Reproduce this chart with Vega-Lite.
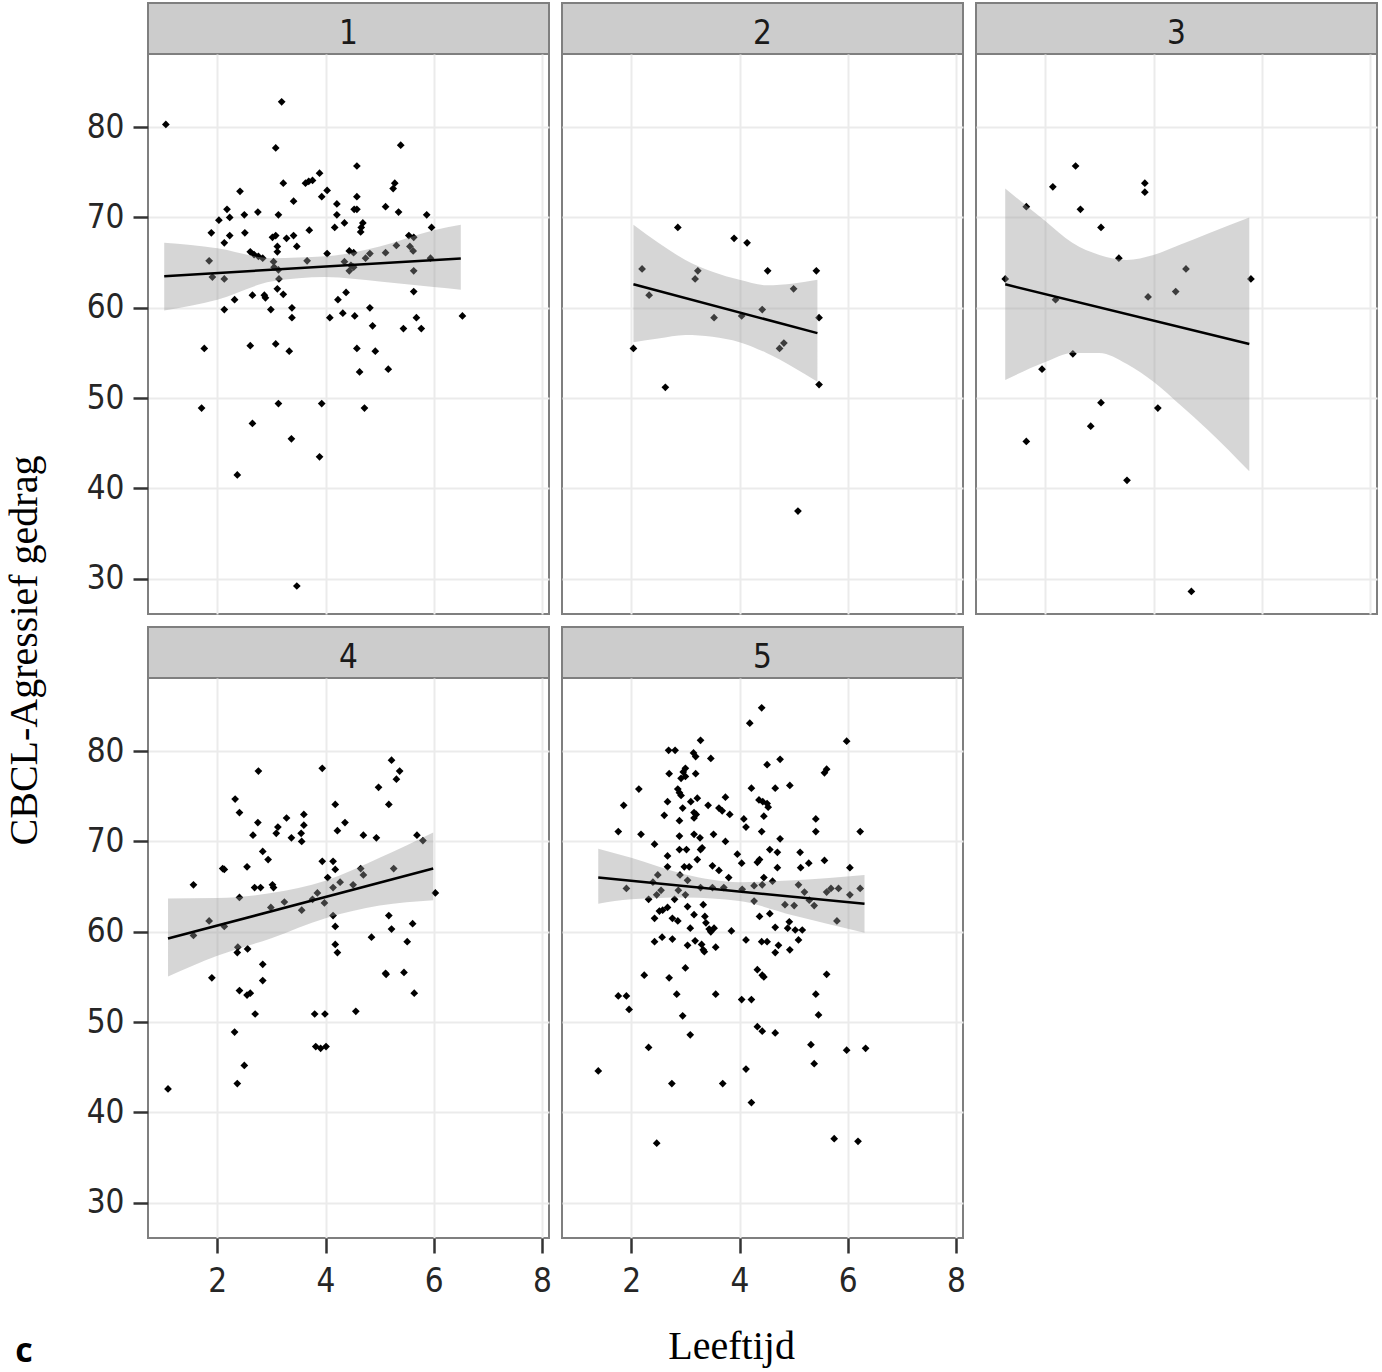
{
  "$schema": "https://vega.github.io/schema/vega-lite/v6.json",
  "background": "white",
  "padding": {"left": 5, "top": 2, "right": 4, "bottom": 4},
  "datasets": {
    "pts": [
      {"panel":1,"x":1.05,"y":80.3},{"panel":1,"x":3.19,"y":82.8},{"panel":1,"x":3.08,"y":77.7},{"panel":1,"x":3.22,"y":73.8},{"panel":1,"x":3.89,"y":74.9},
      {"panel":1,"x":3.63,"y":73.8},{"panel":1,"x":3.69,"y":74.0},{"panel":1,"x":3.76,"y":74.1},{"panel":1,"x":4.03,"y":73.0},{"panel":1,"x":3.93,"y":72.3},
      {"panel":1,"x":2.42,"y":72.9},{"panel":1,"x":3.41,"y":71.8},{"panel":1,"x":4.21,"y":71.5},{"panel":1,"x":2.18,"y":70.9},{"panel":1,"x":2.03,"y":69.7},
      {"panel":1,"x":2.23,"y":70.0},{"panel":1,"x":2.50,"y":70.3},{"panel":1,"x":2.75,"y":70.6},{"panel":1,"x":3.13,"y":70.3},{"panel":1,"x":4.21,"y":70.3},
      {"panel":1,"x":4.35,"y":69.4},{"panel":1,"x":4.17,"y":68.9},{"panel":1,"x":3.70,"y":68.6},{"panel":1,"x":1.89,"y":68.3},{"panel":1,"x":2.51,"y":68.3},
      {"panel":1,"x":2.23,"y":68.0},{"panel":1,"x":2.13,"y":67.2},{"panel":1,"x":3.02,"y":67.8},{"panel":1,"x":3.08,"y":68.0},{"panel":1,"x":3.11,"y":66.8},
      {"panel":1,"x":3.11,"y":66.2},{"panel":1,"x":3.28,"y":67.7},{"panel":1,"x":3.41,"y":68.0},{"panel":1,"x":3.47,"y":66.8},{"panel":1,"x":2.61,"y":66.2},
      {"panel":1,"x":2.68,"y":65.9},{"panel":1,"x":2.76,"y":65.7},{"panel":1,"x":2.84,"y":65.5},{"panel":1,"x":4.03,"y":66.0},{"panel":1,"x":1.85,"y":65.2},
      {"panel":1,"x":3.04,"y":65.1},{"panel":1,"x":3.05,"y":64.5},{"panel":1,"x":3.66,"y":65.2},{"panel":1,"x":4.35,"y":65.1},{"panel":1,"x":1.91,"y":63.4},
      {"panel":1,"x":2.13,"y":63.2},{"panel":1,"x":3.13,"y":64.2},{"panel":1,"x":3.14,"y":63.2},{"panel":1,"x":3.11,"y":62.1},{"panel":1,"x":3.22,"y":61.5},
      {"panel":1,"x":2.32,"y":60.9},{"panel":1,"x":2.65,"y":61.4},{"panel":1,"x":2.87,"y":61.4},{"panel":1,"x":2.89,"y":61.1},{"panel":1,"x":2.13,"y":59.8},
      {"panel":1,"x":2.99,"y":59.8},{"panel":1,"x":3.38,"y":60.0},{"panel":1,"x":3.38,"y":58.9},{"panel":1,"x":4.08,"y":58.9},{"panel":1,"x":4.23,"y":60.9},
      {"panel":1,"x":4.32,"y":59.4},{"panel":1,"x":4.38,"y":61.7},{"panel":1,"x":1.76,"y":55.5},{"panel":1,"x":2.61,"y":55.8},{"panel":1,"x":3.08,"y":56.0},
      {"panel":1,"x":3.33,"y":55.2},{"panel":1,"x":1.71,"y":48.9},{"panel":1,"x":3.13,"y":49.4},{"panel":1,"x":3.93,"y":49.4},{"panel":1,"x":2.65,"y":47.2},
      {"panel":1,"x":3.37,"y":45.5},{"panel":1,"x":3.89,"y":43.5},{"panel":1,"x":2.37,"y":41.5},{"panel":1,"x":3.47,"y":29.2},
      {"panel":1,"x":5.39,"y":78.0},{"panel":1,"x":4.58,"y":75.7},{"panel":1,"x":5.28,"y":73.8},{"panel":1,"x":5.25,"y":73.2},{"panel":1,"x":4.58,"y":72.3},
      {"panel":1,"x":5.11,"y":71.2},{"panel":1,"x":5.35,"y":70.6},{"panel":1,"x":4.53,"y":70.9},{"panel":1,"x":4.58,"y":70.9},{"panel":1,"x":4.69,"y":69.4},
      {"panel":1,"x":4.66,"y":68.9},{"panel":1,"x":4.65,"y":68.4},{"panel":1,"x":5.87,"y":70.3},{"panel":1,"x":5.96,"y":68.9},{"panel":1,"x":5.54,"y":68.0},
      {"panel":1,"x":5.63,"y":67.8},{"panel":1,"x":5.56,"y":66.8},{"panel":1,"x":5.62,"y":66.3},{"panel":1,"x":5.31,"y":66.9},{"panel":1,"x":4.44,"y":66.3},
      {"panel":1,"x":4.52,"y":66.1},{"panel":1,"x":5.11,"y":66.1},{"panel":1,"x":4.82,"y":66.0},{"panel":1,"x":4.74,"y":65.5},{"panel":1,"x":4.47,"y":64.7},
      {"panel":1,"x":4.44,"y":64.1},{"panel":1,"x":4.52,"y":64.5},{"panel":1,"x":5.94,"y":65.5},{"panel":1,"x":5.63,"y":64.1},{"panel":1,"x":5.63,"y":61.8},
      {"panel":1,"x":4.54,"y":59.1},{"panel":1,"x":4.82,"y":60.0},{"panel":1,"x":4.87,"y":58.0},{"panel":1,"x":5.68,"y":58.9},{"panel":1,"x":5.44,"y":57.7},
      {"panel":1,"x":5.77,"y":57.7},{"panel":1,"x":6.53,"y":59.1},{"panel":1,"x":4.58,"y":55.5},{"panel":1,"x":4.92,"y":55.2},{"panel":1,"x":4.63,"y":52.9},
      {"panel":1,"x":5.16,"y":53.2},{"panel":1,"x":4.72,"y":48.9},

      {"panel":2,"x":2.86,"y":68.9},{"panel":2,"x":3.90,"y":67.7},{"panel":2,"x":4.14,"y":67.2},{"panel":2,"x":2.20,"y":64.3},{"panel":2,"x":3.23,"y":64.1},
      {"panel":2,"x":3.18,"y":63.2},{"panel":2,"x":4.52,"y":64.1},{"panel":2,"x":5.42,"y":64.1},{"panel":2,"x":2.33,"y":61.4},{"panel":2,"x":5.00,"y":62.1},
      {"panel":2,"x":4.42,"y":59.8},{"panel":2,"x":3.53,"y":58.9},{"panel":2,"x":4.04,"y":59.1},{"panel":2,"x":5.47,"y":58.9},{"panel":2,"x":2.04,"y":55.5},
      {"panel":2,"x":4.74,"y":55.5},{"panel":2,"x":4.82,"y":56.1},{"panel":2,"x":2.63,"y":51.2},{"panel":2,"x":5.47,"y":51.5},{"panel":2,"x":5.08,"y":37.5},

      {"panel":3,"x":2.56,"y":75.7},{"panel":3,"x":2.14,"y":73.4},{"panel":3,"x":3.84,"y":73.8},{"panel":3,"x":3.84,"y":72.8},{"panel":3,"x":1.65,"y":71.2},
      {"panel":3,"x":2.65,"y":70.9},{"panel":3,"x":3.03,"y":68.9},{"panel":3,"x":3.36,"y":65.5},{"panel":3,"x":4.60,"y":64.3},{"panel":3,"x":1.26,"y":63.2},
      {"panel":3,"x":5.80,"y":63.2},{"panel":3,"x":2.19,"y":60.9},{"panel":3,"x":3.90,"y":61.2},{"panel":3,"x":4.41,"y":61.8},{"panel":3,"x":2.51,"y":54.9},
      {"panel":3,"x":1.94,"y":53.2},{"panel":3,"x":3.03,"y":49.5},{"panel":3,"x":4.08,"y":48.9},{"panel":3,"x":2.84,"y":46.9},{"panel":3,"x":1.65,"y":45.2},
      {"panel":3,"x":3.51,"y":40.9},{"panel":3,"x":4.70,"y":28.6},

      {"panel":4,"x":5.22,"y":79.0},{"panel":4,"x":5.37,"y":77.8},{"panel":4,"x":5.31,"y":76.9},{"panel":4,"x":2.76,"y":77.8},{"panel":4,"x":3.94,"y":78.1},
      {"panel":4,"x":4.98,"y":76.0},{"panel":4,"x":2.33,"y":74.7},{"panel":4,"x":2.41,"y":73.2},{"panel":4,"x":4.18,"y":74.1},{"panel":4,"x":5.17,"y":74.1},
      {"panel":4,"x":3.28,"y":72.6},{"panel":4,"x":3.60,"y":73.0},{"panel":4,"x":3.60,"y":71.8},{"panel":4,"x":2.75,"y":72.1},{"panel":4,"x":4.36,"y":72.1},
      {"panel":4,"x":3.12,"y":71.6},{"panel":4,"x":3.09,"y":70.9},{"panel":4,"x":4.22,"y":71.2},{"panel":4,"x":2.66,"y":70.7},{"panel":4,"x":3.55,"y":70.9},
      {"panel":4,"x":3.56,"y":70.0},{"panel":4,"x":3.37,"y":70.4},{"panel":4,"x":4.70,"y":70.7},{"panel":4,"x":4.94,"y":70.4},{"panel":4,"x":5.69,"y":70.7},
      {"panel":4,"x":5.80,"y":70.1},{"panel":4,"x":2.84,"y":68.9},{"panel":4,"x":2.94,"y":68.0},{"panel":4,"x":2.55,"y":67.2},{"panel":4,"x":2.10,"y":67.0},
      {"panel":4,"x":2.13,"y":66.9},{"panel":4,"x":3.94,"y":67.8},{"panel":4,"x":4.14,"y":67.8},{"panel":4,"x":4.18,"y":66.9},{"panel":4,"x":4.04,"y":66.0},
      {"panel":4,"x":4.65,"y":67.0},{"panel":4,"x":4.70,"y":66.3},{"panel":4,"x":5.26,"y":67.0},{"panel":4,"x":1.56,"y":65.2},{"panel":4,"x":2.69,"y":64.9},
      {"panel":4,"x":2.80,"y":64.9},{"panel":4,"x":3.02,"y":65.2},{"panel":4,"x":3.04,"y":64.9},{"panel":4,"x":4.14,"y":64.9},{"panel":4,"x":4.27,"y":65.5},
      {"panel":4,"x":4.51,"y":65.2},{"panel":4,"x":3.85,"y":64.3},{"panel":4,"x":2.41,"y":63.8},{"panel":4,"x":6.03,"y":64.3},{"panel":4,"x":3.24,"y":63.3},
      {"panel":4,"x":2.99,"y":62.7},{"panel":4,"x":3.76,"y":63.6},{"panel":4,"x":3.98,"y":63.2},{"panel":4,"x":3.56,"y":62.4},{"panel":4,"x":1.85,"y":61.2},
      {"panel":4,"x":2.13,"y":60.6},{"panel":4,"x":1.56,"y":59.6},{"panel":4,"x":4.14,"y":61.8},{"panel":4,"x":5.17,"y":61.8},{"panel":4,"x":4.18,"y":60.6},
      {"panel":4,"x":5.22,"y":60.3},{"panel":4,"x":5.61,"y":60.9},{"panel":4,"x":4.85,"y":59.4},{"panel":4,"x":5.51,"y":58.9},{"panel":4,"x":2.38,"y":58.3},
      {"panel":4,"x":2.37,"y":57.7},{"panel":4,"x":2.56,"y":58.1},{"panel":4,"x":4.18,"y":58.6},{"panel":4,"x":4.22,"y":57.7},{"panel":4,"x":2.84,"y":56.4},
      {"panel":4,"x":2.84,"y":54.6},{"panel":4,"x":1.90,"y":54.9},{"panel":4,"x":5.11,"y":55.4},{"panel":4,"x":5.12,"y":55.3},{"panel":4,"x":5.45,"y":55.5},
      {"panel":4,"x":2.41,"y":53.5},{"panel":4,"x":2.55,"y":53.0},{"panel":4,"x":2.61,"y":53.2},{"panel":4,"x":5.64,"y":53.2},{"panel":4,"x":2.70,"y":50.9},
      {"panel":4,"x":3.80,"y":50.9},{"panel":4,"x":3.99,"y":50.9},{"panel":4,"x":4.56,"y":51.2},{"panel":4,"x":2.32,"y":48.9},{"panel":4,"x":3.82,"y":47.3},
      {"panel":4,"x":3.91,"y":47.1},{"panel":4,"x":4.01,"y":47.3},{"panel":4,"x":2.50,"y":45.2},{"panel":4,"x":2.37,"y":43.2},{"panel":4,"x":1.09,"y":42.6},

      {"panel":5,"x":3.28,"y":81.2},{"panel":5,"x":2.69,"y":80.1},{"panel":5,"x":2.81,"y":80.1},{"panel":5,"x":3.15,"y":79.8},{"panel":5,"x":3.19,"y":79.4},
      {"panel":5,"x":3.47,"y":79.2},{"panel":5,"x":3.00,"y":78.1},{"panel":5,"x":2.96,"y":77.7},{"panel":5,"x":2.92,"y":77.0},{"panel":5,"x":3.00,"y":77.2},
      {"panel":5,"x":2.70,"y":77.5},{"panel":5,"x":3.19,"y":77.5},{"panel":5,"x":2.14,"y":75.8},{"panel":5,"x":2.86,"y":75.8},{"panel":5,"x":2.89,"y":75.4},
      {"panel":5,"x":2.92,"y":75.1},{"panel":5,"x":1.86,"y":74.0},{"panel":5,"x":2.67,"y":74.4},{"panel":5,"x":3.10,"y":74.4},{"panel":5,"x":3.22,"y":74.8},
      {"panel":5,"x":2.95,"y":73.7},{"panel":5,"x":3.42,"y":74.0},{"panel":5,"x":3.74,"y":74.9},{"panel":5,"x":3.62,"y":73.7},{"panel":5,"x":3.68,"y":73.4},
      {"panel":5,"x":3.82,"y":73.0},{"panel":5,"x":2.61,"y":72.9},{"panel":5,"x":3.16,"y":73.2},{"panel":5,"x":3.16,"y":72.6},{"panel":5,"x":3.20,"y":73.0},
      {"panel":5,"x":2.89,"y":72.3},{"panel":5,"x":1.76,"y":71.1},{"panel":5,"x":2.18,"y":70.8},{"panel":5,"x":2.89,"y":70.6},{"panel":5,"x":3.16,"y":70.8},
      {"panel":5,"x":3.27,"y":70.4},{"panel":5,"x":3.52,"y":70.8},{"panel":5,"x":3.74,"y":70.0},{"panel":5,"x":2.43,"y":69.7},{"panel":5,"x":2.89,"y":69.1},
      {"panel":5,"x":3.02,"y":69.1},{"panel":5,"x":3.28,"y":69.1},{"panel":5,"x":3.31,"y":69.3},{"panel":5,"x":2.67,"y":68.4},{"panel":5,"x":3.22,"y":68.0},
      {"panel":5,"x":3.96,"y":68.6},{"panel":5,"x":2.67,"y":67.2},{"panel":5,"x":2.98,"y":67.2},{"panel":5,"x":3.07,"y":67.2},{"panel":5,"x":3.50,"y":67.3},
      {"panel":5,"x":3.62,"y":66.8},{"panel":5,"x":2.49,"y":66.3},{"panel":5,"x":2.90,"y":66.3},{"panel":5,"x":3.80,"y":66.0},{"panel":5,"x":3.04,"y":65.7},
      {"panel":5,"x":1.91,"y":64.8},{"panel":5,"x":2.40,"y":65.5},{"panel":5,"x":3.28,"y":64.9},{"panel":5,"x":3.50,"y":64.9},{"panel":5,"x":3.71,"y":64.9},
      {"panel":5,"x":2.55,"y":64.6},{"panel":5,"x":2.47,"y":64.1},{"panel":5,"x":2.32,"y":63.6},{"panel":5,"x":2.87,"y":64.6},{"panel":5,"x":3.00,"y":64.1},
      {"panel":5,"x":2.80,"y":63.6},{"panel":5,"x":3.04,"y":62.8},{"panel":5,"x":2.67,"y":62.7},{"panel":5,"x":2.58,"y":62.4},{"panel":5,"x":2.52,"y":62.3},
      {"panel":5,"x":3.33,"y":63.0},{"panel":5,"x":3.16,"y":61.9},{"panel":5,"x":2.43,"y":61.5},{"panel":5,"x":2.76,"y":61.5},{"panel":5,"x":2.86,"y":61.2},
      {"panel":5,"x":3.36,"y":61.7},{"panel":5,"x":3.38,"y":61.0},{"panel":5,"x":3.44,"y":60.3},{"panel":5,"x":3.53,"y":60.4},{"panel":5,"x":3.47,"y":60.0},
      {"panel":5,"x":3.09,"y":60.4},{"panel":5,"x":3.85,"y":60.1},{"panel":5,"x":2.57,"y":59.4},{"panel":5,"x":2.43,"y":58.9},{"panel":5,"x":2.76,"y":59.2},
      {"panel":5,"x":3.04,"y":58.5},{"panel":5,"x":3.18,"y":59.0},{"panel":5,"x":3.30,"y":58.6},{"panel":5,"x":3.33,"y":58.0},{"panel":5,"x":3.35,"y":57.8},
      {"panel":5,"x":3.56,"y":58.3},{"panel":5,"x":3.00,"y":56.0},{"panel":5,"x":2.24,"y":55.2},{"panel":5,"x":2.70,"y":54.9},{"panel":5,"x":1.76,"y":52.9},
      {"panel":5,"x":1.91,"y":52.9},{"panel":5,"x":1.96,"y":51.4},{"panel":5,"x":2.84,"y":53.1},{"panel":5,"x":3.56,"y":53.1},{"panel":5,"x":2.95,"y":50.7},
      {"panel":5,"x":3.09,"y":48.6},{"panel":5,"x":2.32,"y":47.2},{"panel":5,"x":1.39,"y":44.6},{"panel":5,"x":2.75,"y":43.2},{"panel":5,"x":3.69,"y":43.2},
      {"panel":5,"x":2.47,"y":36.6},
      {"panel":5,"x":4.41,"y":84.8},{"panel":5,"x":4.19,"y":83.1},{"panel":5,"x":5.98,"y":81.1},{"panel":5,"x":4.75,"y":79.1},{"panel":5,"x":4.51,"y":78.5},
      {"panel":5,"x":5.61,"y":78.0},{"panel":5,"x":5.57,"y":77.6},{"panel":5,"x":4.22,"y":75.9},{"panel":5,"x":4.66,"y":75.9},{"panel":5,"x":4.93,"y":76.2},
      {"panel":5,"x":4.36,"y":74.6},{"panel":5,"x":4.43,"y":74.4},{"panel":5,"x":4.51,"y":74.2},{"panel":5,"x":4.53,"y":73.8},{"panel":5,"x":4.45,"y":72.8},
      {"panel":5,"x":4.08,"y":72.5},{"panel":5,"x":4.12,"y":71.6},{"panel":5,"x":4.41,"y":71.1},{"panel":5,"x":5.41,"y":72.5},{"panel":5,"x":5.41,"y":71.1},
      {"panel":5,"x":6.23,"y":71.1},{"panel":5,"x":4.75,"y":70.3},{"panel":5,"x":4.56,"y":69.1},{"panel":5,"x":4.70,"y":68.8},{"panel":5,"x":4.04,"y":67.6},
      {"panel":5,"x":4.33,"y":67.7},{"panel":5,"x":4.37,"y":68.0},{"panel":5,"x":5.12,"y":68.8},{"panel":5,"x":4.70,"y":67.1},{"panel":5,"x":5.13,"y":67.1},
      {"panel":5,"x":5.28,"y":67.6},{"panel":5,"x":5.57,"y":67.9},{"panel":5,"x":6.04,"y":67.1},{"panel":5,"x":4.45,"y":66.0},{"panel":5,"x":4.61,"y":65.6},
      {"panel":5,"x":4.27,"y":65.1},{"panel":5,"x":4.42,"y":65.2},{"panel":5,"x":4.05,"y":64.7},{"panel":5,"x":5.09,"y":65.2},{"panel":5,"x":5.20,"y":64.4},
      {"panel":5,"x":5.69,"y":64.8},{"panel":5,"x":5.83,"y":64.8},{"panel":5,"x":5.61,"y":64.4},{"panel":5,"x":6.23,"y":64.8},{"panel":5,"x":6.04,"y":64.1},
      {"panel":5,"x":4.27,"y":63.4},{"panel":5,"x":4.84,"y":63.0},{"panel":5,"x":5.01,"y":62.9},{"panel":5,"x":5.29,"y":63.5},{"panel":5,"x":5.38,"y":62.9},
      {"panel":5,"x":4.37,"y":61.7},{"panel":5,"x":4.56,"y":62.0},{"panel":5,"x":4.66,"y":60.5},{"panel":5,"x":4.92,"y":61.1},{"panel":5,"x":4.89,"y":60.4},
      {"panel":5,"x":5.03,"y":60.2},{"panel":5,"x":5.16,"y":60.2},{"panel":5,"x":5.80,"y":61.2},{"panel":5,"x":4.12,"y":59.1},{"panel":5,"x":4.41,"y":58.9},
      {"panel":5,"x":4.51,"y":58.9},{"panel":5,"x":4.72,"y":58.5},{"panel":5,"x":4.66,"y":57.7},{"panel":5,"x":4.93,"y":58.0},{"panel":5,"x":5.09,"y":59.1},
      {"panel":5,"x":4.33,"y":55.8},{"panel":5,"x":4.42,"y":55.2},{"panel":5,"x":4.45,"y":55.0},{"panel":5,"x":5.61,"y":55.3},{"panel":5,"x":4.04,"y":52.5},
      {"panel":5,"x":4.22,"y":52.5},{"panel":5,"x":5.41,"y":53.1},{"panel":5,"x":5.46,"y":50.8},{"panel":5,"x":4.33,"y":49.5},{"panel":5,"x":4.42,"y":49.0},
      {"panel":5,"x":4.66,"y":48.8},{"panel":5,"x":5.32,"y":47.5},{"panel":5,"x":5.38,"y":45.4},{"panel":5,"x":5.98,"y":46.9},{"panel":5,"x":6.33,"y":47.1},
      {"panel":5,"x":4.12,"y":44.8},{"panel":5,"x":4.22,"y":41.1},{"panel":5,"x":5.75,"y":37.1},{"panel":5,"x":6.19,"y":36.8}
    ],
    "fit": [
      {"panel":1,"x":1.02,"y":63.5},{"panel":1,"x":6.5,"y":65.45},
      {"panel":2,"x":2.04,"y":62.6},{"panel":2,"x":5.44,"y":57.2},
      {"panel":3,"x":1.26,"y":62.6},{"panel":3,"x":5.77,"y":56.0},
      {"panel":4,"x":1.09,"y":59.25},{"panel":4,"x":5.99,"y":67.0},
      {"panel":5,"x":1.39,"y":66.0},{"panel":5,"x":6.31,"y":63.1}
    ],
    "band": [
      {"panel":1,"x":1.02,"lo":59.7,"hi":67.2},{"panel":1,"x":2.0,"lo":60.9,"hi":66.6},{"panel":1,"x":3.0,"lo":62.9,"hi":65.5},
      {"panel":1,"x":4.0,"lo":63.4,"hi":65.7},{"panel":1,"x":5.0,"lo":62.9,"hi":66.8},{"panel":1,"x":6.0,"lo":62.3,"hi":68.6},{"panel":1,"x":6.5,"lo":62.0,"hi":69.2},
      {"panel":2,"x":2.04,"lo":56.2,"hi":69.2},{"panel":2,"x":2.5,"lo":56.6,"hi":67.2},{"panel":2,"x":3.0,"lo":57.0,"hi":65.3},{"panel":2,"x":3.5,"lo":56.8,"hi":64.0},
      {"panel":2,"x":4.0,"lo":56.2,"hi":63.1},{"panel":2,"x":4.5,"lo":55.0,"hi":62.5},{"panel":2,"x":5.0,"lo":53.4,"hi":62.7},{"panel":2,"x":5.44,"lo":51.8,"hi":63.1},
      {"panel":3,"x":1.26,"lo":52.0,"hi":73.2},{"panel":3,"x":2.0,"lo":54.0,"hi":69.6},{"panel":3,"x":2.5,"lo":55.0,"hi":67.2},{"panel":3,"x":3.0,"lo":55.0,"hi":65.85},
      {"panel":3,"x":3.5,"lo":53.8,"hi":65.3},{"panel":3,"x":4.0,"lo":51.8,"hi":65.85},{"panel":3,"x":4.5,"lo":49.2,"hi":67.0},{"panel":3,"x":5.0,"lo":46.5,"hi":68.2},
      {"panel":3,"x":5.77,"lo":41.9,"hi":70.0},
      {"panel":4,"x":1.09,"lo":55.05,"hi":63.7},{"panel":4,"x":2.0,"lo":57.35,"hi":63.75},{"panel":4,"x":3.0,"lo":59.3,"hi":64.3},{"panel":4,"x":4.0,"lo":61.5,"hi":65.65},
      {"panel":4,"x":5.0,"lo":62.9,"hi":68.2},{"panel":4,"x":5.99,"lo":63.5,"hi":71.0},
      {"panel":5,"x":1.39,"lo":63.1,"hi":69.2},{"panel":5,"x":2.0,"lo":63.6,"hi":68.2},{"panel":5,"x":3.0,"lo":63.8,"hi":66.35},{"panel":5,"x":4.0,"lo":63.4,"hi":65.5},
      {"panel":5,"x":5.0,"lo":61.8,"hi":65.7},{"panel":5,"x":6.31,"lo":59.9,"hi":66.3}
    ]
  },
  "title": {"text": "c", "orient": "bottom", "anchor": "start", "font": "Open Sans", "fontWeight": "bold", "fontSize": 34, "color": "black", "offset": 0, "dx": 10, "dy": -32},
  "vconcat": [
    {
      "title": {"text": "Leeftijd", "orient": "bottom", "anchor": "middle", "font": "Liberation Serif", "fontSize": 40, "fontWeight": "normal", "color": "black", "offset": 28, "dx": 40},
      "vconcat": [
        {
          "title": {"text": "CBCL-Agressief gedrag", "orient": "left", "anchor": "middle", "font": "Liberation Serif", "fontSize": 40, "fontWeight": "normal", "color": "black", "offset": 40},
          "columns": 3,
          "spacing": {"row": 11, "column": 8},
          "concat": [
            {
              "spacing": 0, "bounds": "flush",
              "vconcat": [
                {"width": 401, "height": 51, "view": {"fill": "#CCCCCC", "stroke": "#7F7F7F", "strokeWidth": 2},
                 "data": {"values": [{"label": "1"}]},
                 "mark": {"type": "text", "font": "Liberation Sans Narrow, DejaVu Sans Condensed, Roboto, sans-serif", "fontSize": 33, "color": "#1A1A1A", "baseline": "middle", "dy": 5},
                 "encoding": {"text": {"field": "label", "type": "nominal"}}},
                {"width": 401, "height": 560, "view": {"fill": "white", "stroke": "#7F7F7F", "strokeWidth": 2},
                 "encoding": {"x": {"field": "x", "type": "quantitative", "scale": {"domain": [0.72, 8.13], "nice": false, "zero": false}, "axis": {"values": [2,4,6,8], "title": null, "labels": false, "ticks": false}}},
                 "layer": [
                   {"data": {"name": "pts"}, "transform": [{"filter": "datum.panel == 1"}],
                    "mark": {"type": "point", "shape": "diamond", "filled": true, "size": 60, "color": "black", "opacity": 1},
                    "encoding": {"y": {"field": "y", "type": "quantitative", "scale": {"domain": [26.1, 88.1], "nice": false, "zero": false}, "axis": {"values": [30,40,50,60,70,80], "title": null}}}},
                   {"data": {"name": "band"}, "transform": [{"filter": "datum.panel == 1"}],
                    "mark": {"type": "area", "color": "#999999", "opacity": 0.4, "interpolate": "monotone"},
                    "encoding": {"y": {"field": "lo", "type": "quantitative", "scale": {"domain": [26.1, 88.1], "nice": false, "zero": false}, "axis": {"values": [30,40,50,60,70,80], "title": null}}, "y2": {"field": "hi"}}},
                   {"data": {"name": "fit"}, "transform": [{"filter": "datum.panel == 1"}],
                    "mark": {"type": "line", "color": "black", "strokeWidth": 2.5},
                    "encoding": {"y": {"field": "y", "type": "quantitative", "scale": {"domain": [26.1, 88.1], "nice": false, "zero": false}, "axis": {"values": [30,40,50,60,70,80], "title": null}}}}
                 ]}
              ]
            },
            {
              "spacing": 0, "bounds": "flush",
              "vconcat": [
                {"width": 401, "height": 51, "view": {"fill": "#CCCCCC", "stroke": "#7F7F7F", "strokeWidth": 2},
                 "data": {"values": [{"label": "2"}]},
                 "mark": {"type": "text", "font": "Liberation Sans Narrow, DejaVu Sans Condensed, Roboto, sans-serif", "fontSize": 33, "color": "#1A1A1A", "baseline": "middle", "dy": 5},
                 "encoding": {"text": {"field": "label", "type": "nominal"}}},
                {"width": 401, "height": 560, "view": {"fill": "white", "stroke": "#7F7F7F", "strokeWidth": 2},
                 "encoding": {"x": {"field": "x", "type": "quantitative", "scale": {"domain": [0.72, 8.13], "nice": false, "zero": false}, "axis": {"values": [2,4,6,8], "title": null, "labels": false, "ticks": false}}},
                 "layer": [
                   {"data": {"name": "pts"}, "transform": [{"filter": "datum.panel == 2"}],
                    "mark": {"type": "point", "shape": "diamond", "filled": true, "size": 60, "color": "black", "opacity": 1},
                    "encoding": {"y": {"field": "y", "type": "quantitative", "scale": {"domain": [26.1, 88.1], "nice": false, "zero": false}, "axis": {"values": [30,40,50,60,70,80], "title": null, "labels": false, "ticks": false}}}},
                   {"data": {"name": "band"}, "transform": [{"filter": "datum.panel == 2"}],
                    "mark": {"type": "area", "color": "#999999", "opacity": 0.4, "interpolate": "monotone"},
                    "encoding": {"y": {"field": "lo", "type": "quantitative", "scale": {"domain": [26.1, 88.1], "nice": false, "zero": false}, "axis": {"values": [30,40,50,60,70,80], "title": null, "labels": false, "ticks": false}}, "y2": {"field": "hi"}}},
                   {"data": {"name": "fit"}, "transform": [{"filter": "datum.panel == 2"}],
                    "mark": {"type": "line", "color": "black", "strokeWidth": 2.5},
                    "encoding": {"y": {"field": "y", "type": "quantitative", "scale": {"domain": [26.1, 88.1], "nice": false, "zero": false}, "axis": {"values": [30,40,50,60,70,80], "title": null, "labels": false, "ticks": false}}}}
                 ]}
              ]
            },
            {
              "spacing": 0, "bounds": "flush",
              "vconcat": [
                {"width": 401, "height": 51, "view": {"fill": "#CCCCCC", "stroke": "#7F7F7F", "strokeWidth": 2},
                 "data": {"values": [{"label": "3"}]},
                 "mark": {"type": "text", "font": "Liberation Sans Narrow, DejaVu Sans Condensed, Roboto, sans-serif", "fontSize": 33, "color": "#1A1A1A", "baseline": "middle", "dy": 5},
                 "encoding": {"text": {"field": "label", "type": "nominal"}}},
                {"width": 401, "height": 560, "view": {"fill": "white", "stroke": "#7F7F7F", "strokeWidth": 2},
                 "encoding": {"x": {"field": "x", "type": "quantitative", "scale": {"domain": [0.72, 8.13], "nice": false, "zero": false}, "axis": {"values": [2,4,6,8], "title": null, "labels": false, "ticks": false}}},
                 "layer": [
                   {"data": {"name": "pts"}, "transform": [{"filter": "datum.panel == 3"}],
                    "mark": {"type": "point", "shape": "diamond", "filled": true, "size": 60, "color": "black", "opacity": 1},
                    "encoding": {"y": {"field": "y", "type": "quantitative", "scale": {"domain": [26.1, 88.1], "nice": false, "zero": false}, "axis": {"values": [30,40,50,60,70,80], "title": null, "labels": false, "ticks": false}}}},
                   {"data": {"name": "band"}, "transform": [{"filter": "datum.panel == 3"}],
                    "mark": {"type": "area", "color": "#999999", "opacity": 0.4, "interpolate": "monotone"},
                    "encoding": {"y": {"field": "lo", "type": "quantitative", "scale": {"domain": [26.1, 88.1], "nice": false, "zero": false}, "axis": {"values": [30,40,50,60,70,80], "title": null, "labels": false, "ticks": false}}, "y2": {"field": "hi"}}},
                   {"data": {"name": "fit"}, "transform": [{"filter": "datum.panel == 3"}],
                    "mark": {"type": "line", "color": "black", "strokeWidth": 2.5},
                    "encoding": {"y": {"field": "y", "type": "quantitative", "scale": {"domain": [26.1, 88.1], "nice": false, "zero": false}, "axis": {"values": [30,40,50,60,70,80], "title": null, "labels": false, "ticks": false}}}}
                 ]}
              ]
            },
            {
              "spacing": 0, "bounds": "flush",
              "vconcat": [
                {"width": 401, "height": 51, "view": {"fill": "#CCCCCC", "stroke": "#7F7F7F", "strokeWidth": 2},
                 "data": {"values": [{"label": "4"}]},
                 "mark": {"type": "text", "font": "Liberation Sans Narrow, DejaVu Sans Condensed, Roboto, sans-serif", "fontSize": 33, "color": "#1A1A1A", "baseline": "middle", "dy": 5},
                 "encoding": {"text": {"field": "label", "type": "nominal"}}},
                {"width": 401, "height": 560, "view": {"fill": "white", "stroke": "#7F7F7F", "strokeWidth": 2},
                 "encoding": {"x": {"field": "x", "type": "quantitative", "scale": {"domain": [0.72, 8.13], "nice": false, "zero": false}, "axis": {"values": [2,4,6,8], "title": null, "labelPadding": 12}}},
                 "layer": [
                   {"data": {"name": "pts"}, "transform": [{"filter": "datum.panel == 4"}],
                    "mark": {"type": "point", "shape": "diamond", "filled": true, "size": 60, "color": "black", "opacity": 1},
                    "encoding": {"y": {"field": "y", "type": "quantitative", "scale": {"domain": [26.1, 88.1], "nice": false, "zero": false}, "axis": {"values": [30,40,50,60,70,80], "title": null}}}},
                   {"data": {"name": "band"}, "transform": [{"filter": "datum.panel == 4"}],
                    "mark": {"type": "area", "color": "#999999", "opacity": 0.4, "interpolate": "monotone"},
                    "encoding": {"y": {"field": "lo", "type": "quantitative", "scale": {"domain": [26.1, 88.1], "nice": false, "zero": false}, "axis": {"values": [30,40,50,60,70,80], "title": null}}, "y2": {"field": "hi"}}},
                   {"data": {"name": "fit"}, "transform": [{"filter": "datum.panel == 4"}],
                    "mark": {"type": "line", "color": "black", "strokeWidth": 2.5},
                    "encoding": {"y": {"field": "y", "type": "quantitative", "scale": {"domain": [26.1, 88.1], "nice": false, "zero": false}, "axis": {"values": [30,40,50,60,70,80], "title": null}}}}
                 ]}
              ]
            },
            {
              "spacing": 0, "bounds": "flush",
              "vconcat": [
                {"width": 401, "height": 51, "view": {"fill": "#CCCCCC", "stroke": "#7F7F7F", "strokeWidth": 2},
                 "data": {"values": [{"label": "5"}]},
                 "mark": {"type": "text", "font": "Liberation Sans Narrow, DejaVu Sans Condensed, Roboto, sans-serif", "fontSize": 33, "color": "#1A1A1A", "baseline": "middle", "dy": 5},
                 "encoding": {"text": {"field": "label", "type": "nominal"}}},
                {"width": 401, "height": 560, "view": {"fill": "white", "stroke": "#7F7F7F", "strokeWidth": 2},
                 "encoding": {"x": {"field": "x", "type": "quantitative", "scale": {"domain": [0.72, 8.13], "nice": false, "zero": false}, "axis": {"values": [2,4,6,8], "title": null, "labelPadding": 12}}},
                 "layer": [
                   {"data": {"name": "pts"}, "transform": [{"filter": "datum.panel == 5"}],
                    "mark": {"type": "point", "shape": "diamond", "filled": true, "size": 60, "color": "black", "opacity": 1},
                    "encoding": {"y": {"field": "y", "type": "quantitative", "scale": {"domain": [26.1, 88.1], "nice": false, "zero": false}, "axis": {"values": [30,40,50,60,70,80], "title": null, "labels": false, "ticks": false}}}},
                   {"data": {"name": "band"}, "transform": [{"filter": "datum.panel == 5"}],
                    "mark": {"type": "area", "color": "#999999", "opacity": 0.4, "interpolate": "monotone"},
                    "encoding": {"y": {"field": "lo", "type": "quantitative", "scale": {"domain": [26.1, 88.1], "nice": false, "zero": false}, "axis": {"values": [30,40,50,60,70,80], "title": null, "labels": false, "ticks": false}}, "y2": {"field": "hi"}}},
                   {"data": {"name": "fit"}, "transform": [{"filter": "datum.panel == 5"}],
                    "mark": {"type": "line", "color": "black", "strokeWidth": 2.5},
                    "encoding": {"y": {"field": "y", "type": "quantitative", "scale": {"domain": [26.1, 88.1], "nice": false, "zero": false}, "axis": {"values": [30,40,50,60,70,80], "title": null, "labels": false, "ticks": false}}}}
                 ]}
              ]
            }
          ]
        }
      ]
    }
  ],
  "config": {
    "axis": {
      "domain": false,
      "grid": true,
      "gridColor": "#EBEBEB",
      "gridWidth": 2,
      "tickColor": "#333333",
      "tickWidth": 2.5,
      "tickSize": 15,
      "labelFont": "Liberation Sans Narrow, DejaVu Sans Condensed, Roboto, sans-serif",
      "labelFontSize": 33,
      "labelColor": "#262626",
      "labelPadding": 9
    },
    "view": {"stroke": "#7F7F7F"}
  }
}
